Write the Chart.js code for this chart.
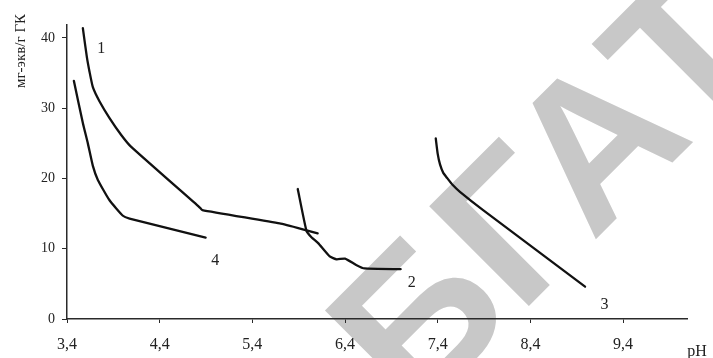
<!DOCTYPE html>
<html>
<head>
<meta charset="utf-8">
<script src="https://cdn.jsdelivr.net/npm/chart.js@4.4.1/dist/chart.umd.min.js"></script>
<style>
html, body { margin: 0; padding: 0; background: #fff; }
#c { display: block; }
</style>
</head>
<body>
<canvas id="c" width="713" height="358"></canvas>
<script>
// curves: pH vs exchange capacity, mg-eq/g
var ph1 = [3.571, 3.614, 3.643, 3.679, 3.75, 3.859, 3.985, 4.093, 4.83, 4.86, 5.695, 5.965, 6.105];
var cap1 = [41.4, 37.3, 35.2, 33.0, 31.0, 28.6, 26.2, 24.5, 15.9, 15.5, 13.6, 12.7, 12.2];

var ph2 = [5.89, 5.985, 6.04, 6.11, 6.235, 6.31, 6.40, 6.52, 6.61, 7.0];
var cap2 = [18.5, 12.5, 11.6, 10.8, 8.9, 8.5, 8.6, 7.7, 7.2, 7.1];

var ph3 = [7.379, 7.40, 7.425, 7.46, 7.50, 7.56, 7.64, 7.89, 8.99];
var cap3 = [25.7, 23.5, 22.0, 20.8, 20.1, 19.1, 18.1, 15.5, 4.6];

var ph4 = [3.474, 3.571, 3.625, 3.679, 3.733, 3.859, 4.003, 4.075, 4.896];
var cap4 = [33.9, 27.9, 25.0, 21.8, 19.8, 16.9, 14.7, 14.3, 11.6];

var xTicks = [3.4, 4.4, 5.4, 6.4, 7.4, 8.4, 9.4];
var yTicks = [0, 10, 20, 30, 40];

// curve numbers and where they sit
var curveNames = ['1', '2', '3', '4'];
var nameX = [3.77, 7.12, 9.2, 5.0];
var nameY = [38.5, 5.1, 2.0, 8.3];

var yTitle = 'мг-экв/г ГК';
var xTitle = 'pH';
var watermark = 'БГАТУ';

function pts(xs, ys) {
	return xs.map(function(x, i) { return {x: x, y: ys[i]}; });
}

function curve(xs, ys) {
	return {
		data: pts(xs, ys),
		borderColor: '#111',
		borderWidth: 2.3,
		pointRadius: 0,
		tension: 0.15,
		borderCapStyle: 'round',
		borderJoinStyle: 'round',
		fill: false
	};
}

var serif = '"Liberation Serif", "Times New Roman", serif';

var extras = {
	id: 'extras',
	beforeDraw: function(chart) {
		var ctx = chart.ctx;
		ctx.save();
		ctx.fillStyle = '#fff';
		ctx.fillRect(0, 0, chart.width, chart.height);
		// grey diagonal watermark behind everything
		ctx.translate(415, 420);
		ctx.rotate(-Math.PI / 4);
		ctx.fillStyle = '#c8c8c8';
		ctx.font = 'bold 205px "Liberation Sans"';
		ctx.textBaseline = 'alphabetic';
		ctx.fillText(watermark, 0, 0);
		ctx.restore();
	},
	afterDatasetsDraw: function(chart) {
		var ctx = chart.ctx;
		var xs = chart.scales.x, ys = chart.scales.y;
		ctx.save();
		ctx.fillStyle = '#222';
		ctx.font = '16px ' + serif;
		ctx.textAlign = 'center';
		ctx.textBaseline = 'middle';
		for (var i = 0; i < curveNames.length; i++) {
			ctx.fillText(curveNames[i], xs.getPixelForValue(nameX[i]), ys.getPixelForValue(nameY[i]));
		}
		ctx.font = '16px ' + serif;
		ctx.fillText(xTitle, 697, 352);
		ctx.translate(21, 51);
		ctx.rotate(-Math.PI / 2);
		ctx.font = '15px ' + serif;
		ctx.fillText(yTitle, 0, 0);
		ctx.restore();
	}
};

var axisColor = '#2a2a2a';

new Chart(document.getElementById('c'), {
	type: 'line',
	data: {
		datasets: [curve(ph1, cap1), curve(ph2, cap2), curve(ph3, cap3), curve(ph4, cap4)]
	},
	options: {
		responsive: false,
		animation: false,
		layout: { padding: { top: 25, right: 26, left: 0, bottom: 0 } },
		plugins: { legend: { display: false }, tooltip: { enabled: false } },
		scales: {
			x: {
				type: 'linear',
				min: 3.4,
				max: 10.09,
				afterBuildTicks: function(s) { s.ticks = xTicks.map(function(v) { return {value: v}; }); },
				afterFit: function(s) { s.height = 39; },
				grid: { drawOnChartArea: false, drawTicks: true, tickLength: 4, color: axisColor },
				border: { color: axisColor, width: 1.5 },
				ticks: {
					padding: 12,
					color: '#222',
					font: { family: serif, size: 16 },
					maxRotation: 0,
					callback: function(v) { return String(v.toFixed(1)).replace('.', ','); }
				}
			},
			y: {
				type: 'linear',
				min: 0,
				max: 41.85,
				afterBuildTicks: function(s) { s.ticks = yTicks.map(function(v) { return {value: v}; }); },
				afterFit: function(s) { s.width = 67; },
				grid: { drawOnChartArea: false, drawTicks: true, tickLength: 5, color: axisColor },
				border: { color: axisColor, width: 1.5 },
				ticks: {
					padding: 7,
					color: '#222',
					font: { family: serif, size: 14 }
				}
			}
		}
	},
	plugins: [extras]
});
</script>
</body>
</html>
